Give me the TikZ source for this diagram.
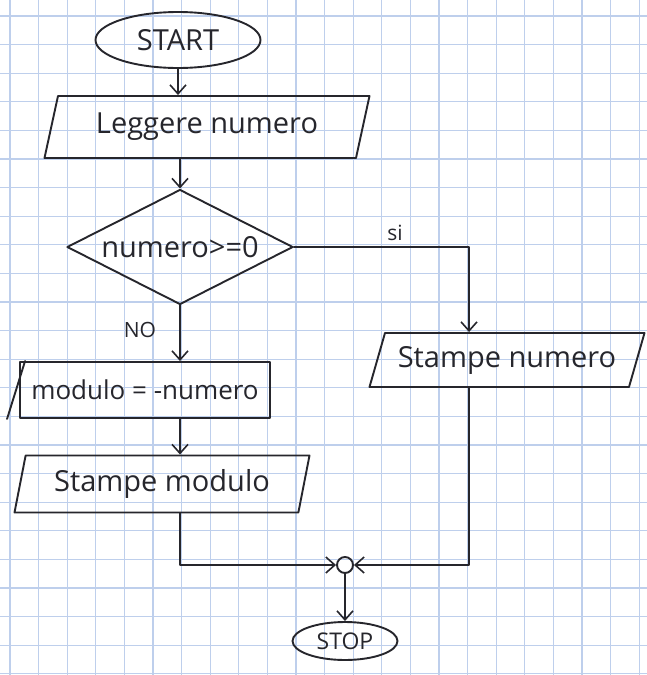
\documentclass[tikz,border=0pt]{standalone}
\usepackage{fontspec}
\setmainfont{Open Sans}
\usetikzlibrary{shapes.geometric,arrows.meta,calc}
\definecolor{gridblue}{RGB}{190,207,236}
\definecolor{ink}{RGB}{38,38,44}
\tikzset{
  ln/.style={draw=ink,line width=1.9pt,line cap=round,line join=round},
  arr/.style={ln,-{Straight Barb[length=9pt,width=16pt,line width=1.6pt]}},
  txt/.style={text=ink,font=\fontsize{29}{33}\selectfont},
  term/.style={ellipse,ln,txt,inner sep=0pt},
  io/.style={trapezium,trapezium stretches body=true,ln,txt,inner sep=0pt},
  proc/.style={rectangle,ln,txt,inner sep=0pt},
  dec/.style={diamond,ln,txt,inner sep=0pt,aspect=2},
  lbl/.style={text=ink,font=\fontsize{21}{25}\selectfont}
}
\begin{document}
\begin{tikzpicture}[x=1pt,y=-1pt]
\useasboundingbox (0,0) rectangle (647,675);
\fill[white] (0,0) rectangle (647,675);
\foreach \k in {0,...,22} {
  \draw[gridblue,line width=1.1pt] ({10+28.6*\k},0) -- ({10+28.6*\k},675);
}
\foreach \k in {0,...,23} {
  \draw[gridblue,line width=1.1pt] (0,{16+28.6*\k}) -- (647,{16+28.6*\k});
}
% nodes
\node[term,minimum width=165pt,minimum height=56pt] (start) at (178,40) {START};
\node[io,trapezium left angle=64,trapezium right angle=116,minimum width=325pt,minimum height=62pt] (leg) at (207,127) {Leggere numero};
\node[dec,minimum width=226pt,minimum height=115pt] (dia) at (180,247) {numero>=0};
\node[io,trapezium left angle=61,trapezium right angle=119,minimum width=275pt,minimum height=54pt] (sn) at (507,360) {Stampe numero};
\node[proc,minimum width=250pt,minimum height=56pt,font=\fontsize{26}{30}\selectfont] (mod) at (145,390) {modulo = -numero};
\node[io,trapezium left angle=69,trapezium right angle=111,minimum width=295pt,minimum height=57pt] (sm) at (162,484) {Stampe modulo};
\node[circle,ln,minimum size=16pt,inner sep=0pt] (j) at (345,565) {};
\node[term,minimum width=105pt,minimum height=38pt,font=\fontsize{23}{27}\selectfont] (stop) at (345,641) {STOP};
\coordinate (snin) at ($(sn.north)+(-38,0)$);
\coordinate (snout) at ($(sn.south)+(-38,0)$);
% slash on the left of the modulo box
\draw[ln] ($(mod.south west)+(-12,0)$) -- ($(mod.north west)+(6,0)$);
% connectors
\draw[arr] (start.south) -- (start.south |- leg.north);
\draw[arr] (dia.north |- leg.south) -- (dia.north);
\draw[arr] (dia.east) -- (snin |- dia.east) -- (snin);
\node[lbl] (si) at (395,233) {si};
\draw[arr] (dia.south) -- (dia.south |- mod.north);
\node[lbl] (no) at (140,330) {NO};
\draw[arr] (mod.south -| dia.south) -- (sm.north -| dia.south);
\draw[arr] (sm.south -| dia.south) -- (dia.south |- j) -- (j.west);
\draw[arr] (snout) -- (snout |- j) -- (j.east);
\draw[arr] (j.south) -- (stop.north);
\end{tikzpicture}
\end{document}
